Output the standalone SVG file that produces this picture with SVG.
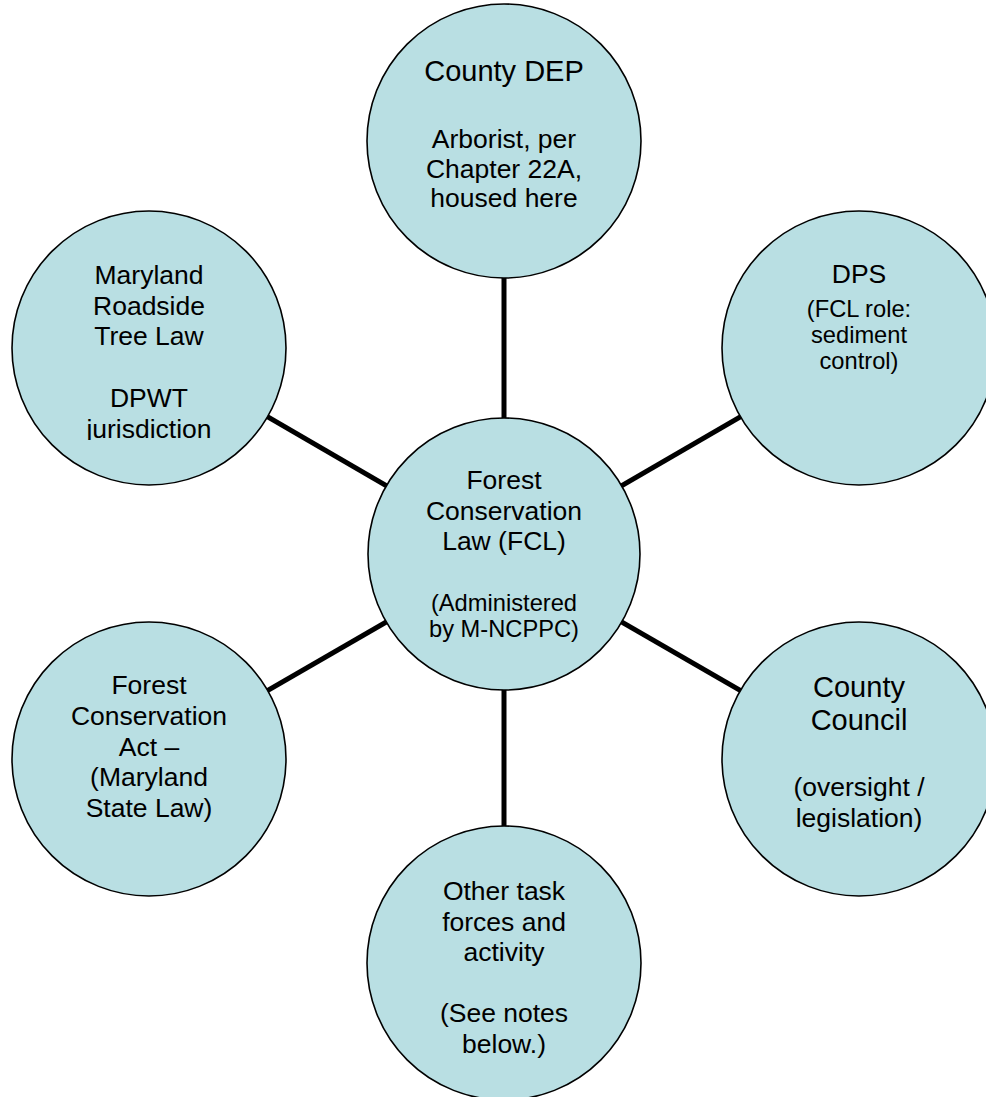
<svg xmlns="http://www.w3.org/2000/svg" width="986" height="1097" viewBox="0 0 986 1097">
<style>
.n{fill:#B9DFE3;stroke:#000;stroke-width:1.6}
.c{stroke:#000;stroke-width:5;fill:none}
text{font-family:"Liberation Sans",Arial,sans-serif;text-anchor:middle;fill:#000}
.t{font-size:29px}
.b{font-size:26.5px}
.s{font-size:23.7px}
</style>
<defs>
<clipPath id="clipMd"><rect x="0" y="200" width="300" height="240"/></clipPath>
</defs>
<rect width="986" height="1097" fill="#fff"/>
<g id="connectors">
<line class="c" x1="504" y1="554" x2="504" y2="141"/>
<line class="c" x1="504" y1="554" x2="149" y2="348"/>
<line class="c" x1="504" y1="554" x2="859" y2="348"/>
<line class="c" x1="504" y1="554" x2="149" y2="759"/>
<line class="c" x1="504" y1="554" x2="859" y2="759"/>
<line class="c" x1="504" y1="554" x2="504" y2="963"/>
</g>
<g id="county-dep">
<circle class="n" cx="504" cy="141" r="137"/>
<text class="t" x="504" y="81">County DEP</text>
<text class="b" x="504" y="148">Arborist, per</text>
<text class="b" x="504" y="178">Chapter 22A,</text>
<text class="b" x="504" y="207">housed here</text>
</g>
<g id="fcl">
<circle class="n" cx="504" cy="554" r="136"/>
<text class="b" x="504" y="489">Forest</text>
<text class="b" x="504" y="519.5">Conservation</text>
<text class="b" x="504" y="550">Law (FCL)</text>
<text class="s" x="504" y="611">(Administered</text>
<text class="s" x="504" y="637">by M-NCPPC)</text>
</g>
<g id="roadside">
<circle class="n" cx="149" cy="348" r="137"/>
<text class="b" x="149" y="284">Maryland</text>
<text class="b" x="149" y="314.5">Roadside</text>
<text class="b" x="149" y="345">Tree Law</text>
<text class="b" x="149" y="407">DPWT</text>
<text class="b" x="149" y="437.5" clip-path="url(#clipMd)">jurisdiction</text>
</g>
<g id="dps">
<circle class="n" cx="859" cy="348" r="137"/>
<text class="b" x="859" y="283">DPS</text>
<text class="s" x="859" y="317">(FCL role:</text>
<text class="s" x="859" y="343">sediment</text>
<text class="s" x="859" y="369">control)</text>
</g>
<g id="fca">
<circle class="n" cx="149" cy="759" r="137"/>
<text class="b" x="149" y="694">Forest</text>
<text class="b" x="149" y="725">Conservation</text>
<text class="b" x="149" y="755.5">Act –</text>
<text class="b" x="149" y="786">(Maryland</text>
<text class="b" x="149" y="817">State Law)</text>
</g>
<g id="council">
<circle class="n" cx="859" cy="759" r="137"/>
<text class="t" x="859" y="697">County</text>
<text class="t" x="859" y="730">Council</text>
<text class="b" x="859" y="796">(oversight /</text>
<text class="b" x="859" y="827">legislation)</text>
</g>
<g id="other">
<circle class="n" cx="504" cy="963" r="137"/>
<text class="b" x="504" y="900">Other task</text>
<text class="b" x="504" y="930.5">forces and</text>
<text class="b" x="504" y="961">activity</text>
<text class="b" x="504" y="1022">(See notes</text>
<text class="b" x="504" y="1053">below.)</text>
</g>
</svg>
